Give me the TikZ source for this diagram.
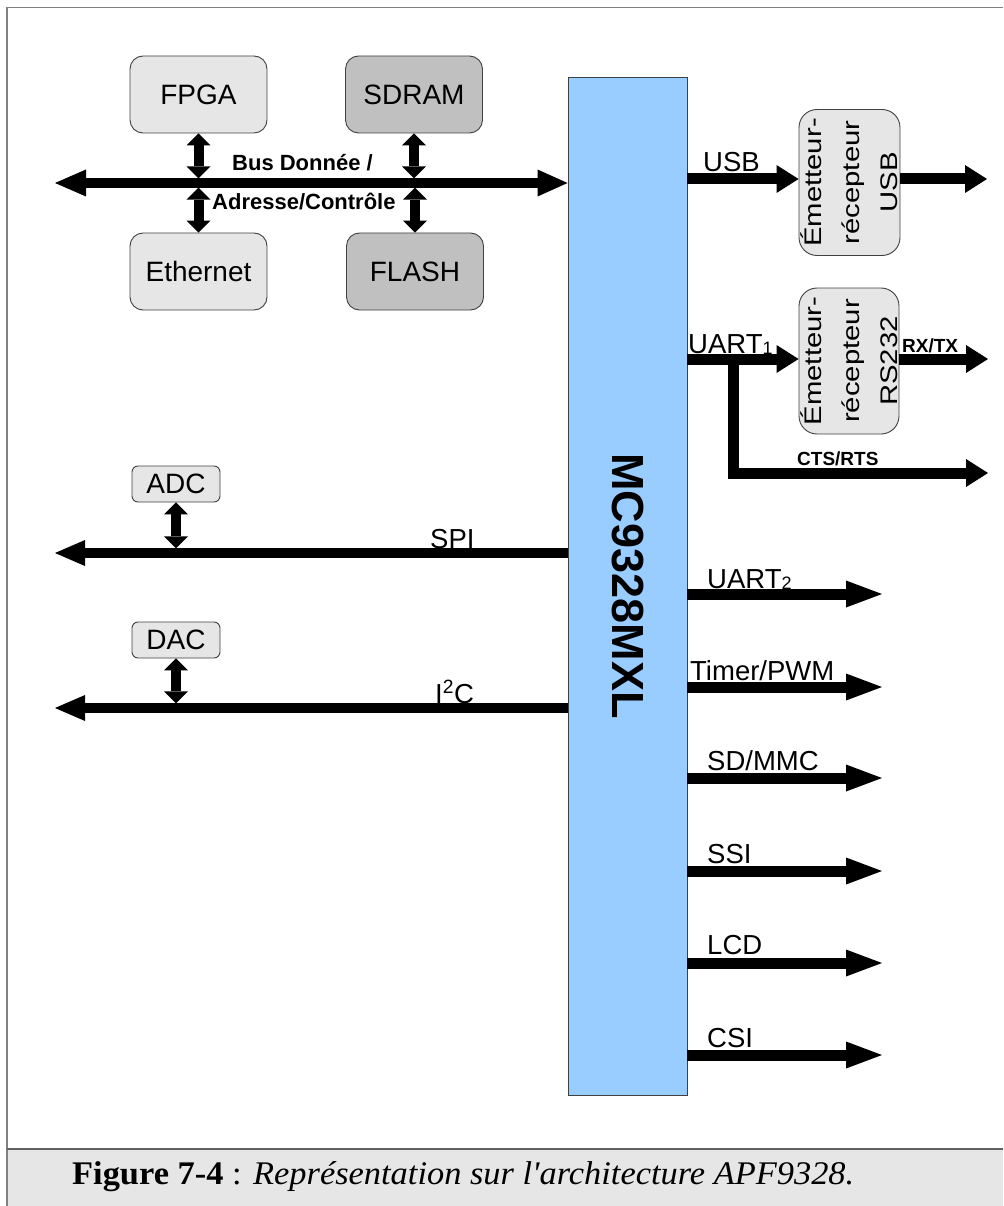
\documentclass[tikz,border=0pt]{standalone}
\usepackage{graphicx}
\usepackage{fontspec}
\setmainfont{Liberation Serif}
\setsansfont{Liberation Sans}
\usetikzlibrary{arrows.meta}
\definecolor{mcblue}{HTML}{99CCFF}
\definecolor{boxlight}{HTML}{E6E6E6}
\definecolor{boxdark}{HTML}{C0C0C0}
\definecolor{framegray}{HTML}{808080}
\definecolor{sepgray}{HTML}{606060}
\definecolor{capfill}{HTML}{E6E6E6}
\definecolor{boxline}{HTML}{404040}
\begin{document}
\begin{tikzpicture}[x=1pt,y=-1pt,
  every node/.style={font=\sffamily},
  lightbox/.style={draw=boxline, line width=0.9pt, fill=boxlight, rounded corners=13pt, inner sep=0pt,
    font=\sffamily\fontsize{28}{30}\selectfont},
  bigbox/.style={lightbox, minimum width=137pt, minimum height=77pt},
  bigdark/.style={bigbox, fill=boxdark},
  smallbox/.style={lightbox, rounded corners=6pt, minimum width=88pt, minimum height=36pt},
  xcvr/.style={lightbox, rounded corners=18pt, minimum width=101pt, minimum height=146pt},
  xcvrtext/.style={rotate=90, align=center, inner sep=0pt, font=\sffamily\fontsize{24}{38}\selectfont},
  mcbox/.style={draw=boxline, line width=0.9pt, fill=mcblue, minimum width=119pt, minimum height=1018pt, inner sep=0pt},
  mctext/.style={rotate=-90, inner sep=0pt, font=\sffamily\bfseries\fontsize{45}{45}\selectfont},
  lbl/.style={anchor=base west, inner sep=0pt, font=\sffamily\fontsize{27.5}{30}\selectfont},
  blbl/.style={anchor=base west, inner sep=0pt, font=\sffamily\bfseries\fontsize{22}{24}\selectfont},
  slbl/.style={anchor=base west, inner sep=0pt, font=\sffamily\bfseries\fontsize{19}{20}\selectfont},
  busarrow/.style={line width=10pt, {Triangle[length=31pt,width=27pt,line width=0pt]}-{Triangle[length=30pt,width=27pt,line width=0pt]}},
  leftarrow/.style={line width=10pt, -{Triangle[length=30pt,width=26pt,line width=0pt]}},
  outarrow/.style={line width=11pt, -{Triangle[length=36pt,width=27pt,line width=0pt]}},
  shortarrow/.style={line width=11pt, line join=miter, -{Triangle[length=22pt,width=28pt,line width=0pt]}},
  vbi/.style={line width=10pt, {Triangle[length=12pt,width=24pt,line width=0pt]}-{Triangle[length=12pt,width=24pt,line width=0pt]}}
]
\useasboundingbox (0,0) rectangle (1003,1206);

% frame and caption band
\fill[capfill] (7,1149) rectangle (1003,1206);
\draw[framegray, line width=1.5pt] (1003,7.5) -- (7,7.5) -- (7,1206);
\draw[sepgray, line width=1.5pt] (7,1149) -- (1003,1149);

% main processor
\node[mcbox] (mc) at (627.5,586) {};
\node[mctext] (mct) at (mc.center) {MC9328MXL};

% boxes
\node[bigbox] (fpga) at (198.5,94.5) {FPGA};
\node[bigbox] (eth) at (198.5,271.5) {Ethernet};
\node[bigdark] (sdram) at (414,94.5) {SDRAM};
\node[bigdark] (flash) at (415,271.5) {FLASH};
\node[smallbox] (adc) at (176,484) {ADC};
\node[smallbox] (dac) at (176,640) {DAC};
\node[xcvr] (usb) at (849.5,182.5) {};
\node[xcvrtext] (usbt) at (usb.center) {\scalebox{1.22}[1]{Émetteur-}\\\scalebox{1.22}[1]{récepteur}\\\scalebox{1.22}[1]{USB}};
\node[xcvr, minimum width=100pt] (rs) at (849,361) {};
\node[xcvrtext] (rst) at (rs.center) {\scalebox{1.22}[1]{Émetteur-}\\\scalebox{1.22}[1]{récepteur}\\\scalebox{1.22}[1]{RS232}};

% data/address bus
\coordinate (busL) at (55,183);
\draw[busarrow] (busL) -- (busL -| mc.west);
\draw[vbi] (fpga.south) -- ++(0,45);
\draw[vbi] (eth.north) -- ++(0,-45);
\draw[vbi] (sdram.south) -- ++(0,45);
\draw[vbi] (flash.north) -- ++(0,-45);
\node[blbl] (busa) at (232,171) {Bus Donnée /};
\node[blbl] (busb) at (212,210) {Adresse/Contrôle};

% SPI and I2C
\coordinate (spiL) at (55,553);
\draw[leftarrow] (spiL -| mc.west) -- (spiL);
\draw[vbi] (adc.south) -- ++(0,46);
\node[lbl] (spi) at (430,548) {SPI};
\coordinate (i2cL) at (55,708);
\draw[leftarrow] (i2cL -| mc.west) -- (i2cL);
\draw[vbi] (dac.south) -- ++(0,45);
\node[lbl] (i2c) at (435,703) {I\textsuperscript{2}C};

% USB
\coordinate (usbY) at (0,179);
\draw[shortarrow] (mc.east |- usbY) -- (usb.west |- usbY);
\coordinate (usbOut) at (987,179);
\draw[shortarrow] (usb.east |- usbOut) -- (usbOut);
\node[lbl] (usbl) at (703,172) {USB};

% UART1
\coordinate (u1Y) at (0,359);
\draw[shortarrow] (mc.east |- u1Y) -- (rs.west |- u1Y);
\coordinate (rxOut) at (988,359);
\draw[shortarrow] (rs.east |- rxOut) -- (rxOut);
\coordinate (ctsJ) at (733,359);
\coordinate (ctsOut) at (988,473);
\draw[shortarrow] (ctsJ) |- (ctsOut);
\node[lbl] (u1l) at (688,353) {UART\raisebox{-1pt}{\fontsize{18}{18}\selectfont 1}};
\node[slbl] (rxl) at (902,352) {RX/TX};
\node[slbl] (ctsl) at (797,465) {CTS/RTS};

% other outputs
\foreach \n/\y in {1/594,2/687,3/778,4/871,5/963,6/1055}{
  \coordinate (out\n) at (882,\y);
  \draw[outarrow] (mc.east |- out\n) -- (out\n);
}
\node[lbl] (u2l) at (707,588) {UART\raisebox{-1pt}{\fontsize{18}{18}\selectfont 2}};
\node[lbl] (tml) at (690,680) {Timer/PWM};
\node[lbl] (sdl) at (707,770) {SD/MMC};
\node[lbl] (ssil) at (707,863) {SSI};
\node[lbl] (lcdl) at (707,954) {LCD};
\node[lbl] (csil) at (707,1047) {CSI};

% caption
\node[anchor=base west, inner sep=0pt, font=\rmfamily\fontsize{33}{35}\selectfont] (cap) at (72,1184)
  {\resizebox{782pt}{\height}{\textbf{Figure 7-4} : \textit{Représentation sur l\textquotesingle architecture APF9328.}}};
\end{tikzpicture}
\end{document}
